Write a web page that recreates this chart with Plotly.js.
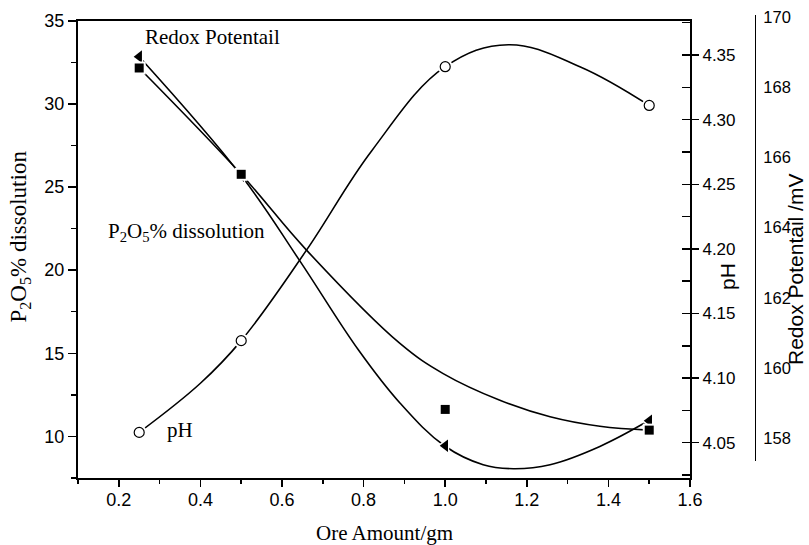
<!DOCTYPE html>
<html>
<head>
<meta charset="utf-8">
<script src="https://cdn.plot.ly/plotly-3.0.1.min.js"></script>
<style>html,body{margin:0;padding:0;background:#fff;}#chart{width:809px;height:545px;}</style>
</head>
<body>
<div id="chart"></div>
<script>
// Measured points (Ore amount / gm)
const orePoints = [0.25, 0.5, 1.0, 1.5];
const p2o5Values = [32.84, 25.69, 9.44, 10.94];        // P2O5 % dissolution (triangles)
const redoxValues = [168.55, 165.52, 158.82, 158.23];  // Redox potential /mV (squares)
const pHValues = [4.058, 4.129, 4.341, 4.311];         // pH (circles)

// Curves
const p2o5CurveX = [0.25, 0.5, 0.642, 0.787, 0.889, 0.998, 1.093, 1.167, 1.257, 1.379, 1.498];
const p2o5CurveY = [32.84, 25.69, 20.62, 15.21, 12.01, 9.44, 8.30, 8.06, 8.30, 9.40, 10.94];
const redoxCurveX = [0.25, 0.5, 0.66, 0.889, 0.995, 1.134, 1.257, 1.379, 1.5];
const redoxCurveY = [168.55, 165.52, 163.36, 160.70, 159.84, 159.08, 158.61, 158.34, 158.23];
const pHCurveX = [0.25, 0.4, 0.5, 0.66, 0.82, 1.0, 1.155, 1.33, 1.5];
const pHCurveY = [4.058, 4.096, 4.129, 4.199, 4.276, 4.341, 4.358, 4.341, 4.311];

const sans = 'Liberation Sans, Arial, sans-serif';
const serif = 'Liberation Serif, Times New Roman, serif';
const lineStyle = {color: '#000', width: 1.6, shape: 'spline', smoothing: 1.1};

const traces = [
  {x: p2o5CurveX, y: p2o5CurveY, mode: 'lines', line: lineStyle, xaxis: 'x', yaxis: 'y', hoverinfo: 'skip'},
  {x: redoxCurveX, y: redoxCurveY, mode: 'lines', line: lineStyle, xaxis: 'x', yaxis: 'y3', hoverinfo: 'skip'},
  {x: pHCurveX, y: pHCurveY, mode: 'lines', line: lineStyle, xaxis: 'x', yaxis: 'y2', hoverinfo: 'skip'},
  // white halos around markers
  {x: orePoints, y: p2o5Values, mode: 'markers', marker: {symbol: 'triangle-left', size: 16, color: '#fff'}, xaxis: 'x', yaxis: 'y', hoverinfo: 'skip'},
  {x: orePoints, y: redoxValues, mode: 'markers', marker: {symbol: 'square', size: 13, color: '#fff'}, xaxis: 'x', yaxis: 'y3', hoverinfo: 'skip'},
  {x: orePoints, y: pHValues, mode: 'markers', marker: {symbol: 'circle', size: 15, color: '#fff'}, xaxis: 'x', yaxis: 'y2', hoverinfo: 'skip'},
  // markers
  {x: orePoints, y: p2o5Values, mode: 'markers', name: 'P2O5 % dissolution', marker: {symbol: 'triangle-left', size: 11, color: '#000'}, xaxis: 'x', yaxis: 'y'},
  {x: orePoints, y: redoxValues, mode: 'markers', name: 'Redox Potential', marker: {symbol: 'square', size: 9, color: '#000'}, xaxis: 'x', yaxis: 'y3'},
  {x: orePoints, y: pHValues, mode: 'markers', name: 'pH', marker: {symbol: 'circle', size: 10, color: '#fff', line: {color: '#000', width: 1.2}}, xaxis: 'x', yaxis: 'y2'}
];

const layout = {
  width: 809, height: 545,
  margin: {l: 78, r: 49, t: 15, b: 67},
  paper_bgcolor: '#fff', plot_bgcolor: 'rgba(0,0,0,0)',
  showlegend: false,
  font: {family: sans, color: '#000', size: 17},
  xaxis: {
    domain: [0, 0.8974], range: [0.1, 1.6], anchor: 'y',
    tick0: 0, dtick: 0.2, tickformat: '.1f',
    ticks: 'outside', ticklen: 7, tickwidth: 1.5, tickcolor: '#000',
    minor: {ticks: 'outside', ticklen: 4, dtick: 0.1, tickwidth: 1.5, tickcolor: '#000', showgrid: false},
    showline: true, linewidth: 2, linecolor: '#000', mirror: true,
    showgrid: false, zeroline: false, ticklabelstandoff: -3,
    tickfont: {family: sans, size: 18}
  },
  yaxis: {
    domain: [0, 0.9875], range: [7.5, 35], anchor: 'x',
    tick0: 0, dtick: 5,
    ticks: 'outside', ticklen: 8, tickwidth: 1.5, tickcolor: '#000',
    minor: {ticks: 'outside', ticklen: 5, dtick: 2.5, tickwidth: 1.5, tickcolor: '#000', showgrid: false},
    showline: true, linewidth: 2, linecolor: '#000',
    showgrid: false, zeroline: false,
    tickfont: {family: sans, size: 18}
  },
  yaxis2: {
    overlaying: 'y', side: 'right', anchor: 'x',
    range: [4.0227, 4.3765], tick0: 4, dtick: 0.05, tickformat: '.2f',
    ticks: 'outside', ticklen: 7, tickwidth: 1.5, tickcolor: '#000',
    minor: {ticks: 'inside', ticklen: 8, dtick: 0.025, tickwidth: 1.5, tickcolor: '#000', showgrid: false},
    showline: true, linewidth: 2, linecolor: '#000',
    showgrid: false, zeroline: false,
    tickfont: {family: sans, size: 17}
  },
  yaxis3: {
    domain: [0.0367, 1], anchor: 'free', position: 0.9927, side: 'right',
    range: [157.35, 170.06], tick0: 0, dtick: 2,
    ticks: '', showline: true, linewidth: 1, linecolor: '#000',
    showgrid: false, zeroline: false, ticklabelstandoff: 4,
    tickfont: {family: sans, size: 16.5}
  },
  annotations: [
    {text: 'Redox Potentail', xref: 'paper', yref: 'paper', x: 0.1965, y: 0.9525, showarrow: false, xanchor: 'center', yanchor: 'middle', font: {family: serif, size: 21}},
    {text: 'P<sub>2</sub>O<sub>5</sub>% dissolution', xref: 'paper', yref: 'paper', x: 0.1598, y: 0.532, showarrow: false, xanchor: 'center', yanchor: 'middle', font: {family: serif, size: 21}},
    {text: 'pH', xref: 'paper', yref: 'paper', x: 0.1496, y: 0.1037, showarrow: false, xanchor: 'center', yanchor: 'middle', font: {family: serif, size: 21}},
    {text: 'Ore Amount/gm', xref: 'paper', yref: 'paper', x: 0.4501, y: -0.1188, showarrow: false, xanchor: 'center', yanchor: 'middle', font: {family: serif, size: 21}},
    {text: 'P<sub>2</sub>O<sub>5</sub>% dissolution', xref: 'paper', yref: 'paper', x: -0.0836, y: 0.5216, textangle: -90, showarrow: false, xanchor: 'center', yanchor: 'middle', font: {family: serif, size: 23}},
    {text: 'pH', xref: 'paper', yref: 'paper', x: (727 - 78) / 682, y: (478 - 277) / 463, textangle: -90, showarrow: false, xanchor: 'center', yanchor: 'middle', font: {family: sans, size: 21}},
    {text: 'Redox Potentail /mV', xref: 'paper', yref: 'paper', x: (795 - 78) / 682, y: (478 - 270) / 463, textangle: -90, showarrow: false, xanchor: 'center', yanchor: 'middle', font: {family: sans, size: 21}}
  ]
};

Plotly.newPlot('chart', traces, layout, {displayModeBar: false, staticPlot: true});
</script>
</body>
</html>
